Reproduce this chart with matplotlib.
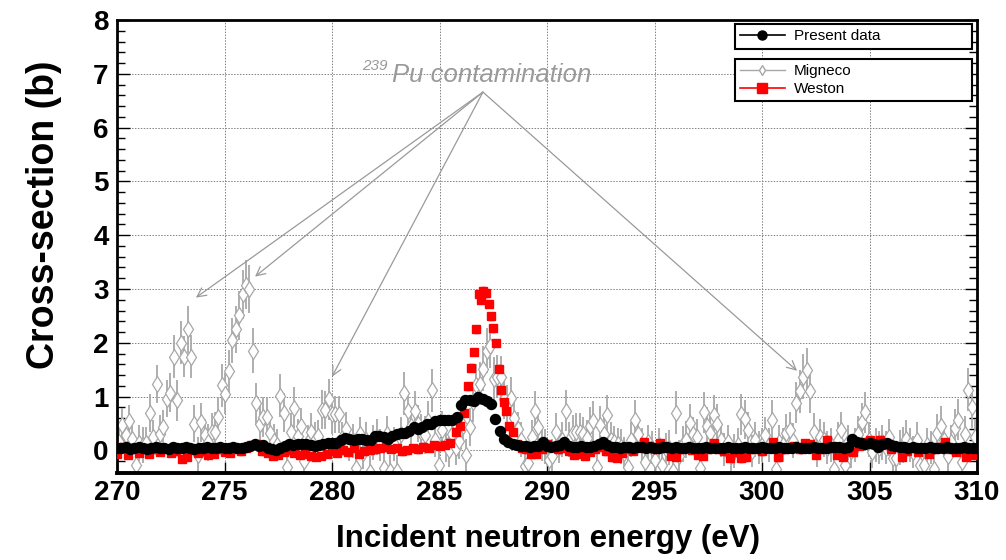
## Cross-section around the 287 eV resonance, present data vs Migneco / Weston
import numpy as np
import matplotlib
matplotlib.use('Agg')
from matplotlib import pyplot as plt
from matplotlib.lines import Line2D
from matplotlib.ticker import MultipleLocator

plt.rcParams['font.family'] = ['Liberation Sans', 'DejaVu Sans']

# ---- present data (0.2 eV grid, 270 -> 310 eV)
present_e = np.linspace(270.0, 310.0, 201)
present_xs = [
    0.05, 0.04, 0.06, 0.03, 0.05, 0.06, 0.04, 0.02, 0.05, 0.06,
    0.04, 0.05, 0.03, 0.06, 0.05, 0.04, 0.06, 0.05, 0.03, 0.04,
    0.05, 0.06, 0.04, 0.05, 0.07, 0.05, 0.04, 0.06, 0.05, 0.04,
    0.06, 0.09, 0.11, 0.08, 0.10, 0.05, 0.02, 0.01, 0.05, 0.08,
    0.11, 0.10, 0.11, 0.12, 0.11, 0.10, 0.09, 0.10, 0.12, 0.14,
    0.14, 0.14, 0.19, 0.23, 0.22, 0.20, 0.21, 0.21, 0.19, 0.20,
    0.26, 0.27, 0.25, 0.22, 0.26, 0.31, 0.32, 0.33, 0.36, 0.43,
    0.40, 0.44, 0.49, 0.50, 0.54, 0.56, 0.57, 0.57, 0.56, 0.63,
    0.85, 0.93, 0.93, 0.92, 1.00, 0.96, 0.91, 0.87, 0.58, 0.36,
    0.22, 0.16, 0.12, 0.10, 0.09, 0.08, 0.07, 0.08, 0.09, 0.15,
    0.09, 0.07, 0.08, 0.10, 0.16, 0.09, 0.07, 0.06, 0.08, 0.07,
    0.06, 0.08, 0.12, 0.16, 0.10, 0.07, 0.06, 0.05, 0.07, 0.06,
    0.05, 0.07, 0.06, 0.05, 0.06, 0.04, 0.05, 0.07, 0.06, 0.05,
    0.06, 0.05, 0.04, 0.06, 0.05, 0.04, 0.05, 0.06, 0.04, 0.05,
    0.05, 0.04, 0.06, 0.05, 0.04, 0.05, 0.06, 0.05, 0.04, 0.05,
    0.06, 0.05, 0.04, 0.05, 0.06, 0.05, 0.04, 0.05, 0.06, 0.05,
    0.04, 0.05, 0.06, 0.05, 0.04, 0.05, 0.06, 0.07, 0.06, 0.05,
    0.07, 0.21, 0.16, 0.13, 0.12, 0.14, 0.12, 0.07, 0.11, 0.13,
    0.10, 0.08, 0.07, 0.06, 0.05, 0.06, 0.05, 0.04, 0.05, 0.06,
    0.05, 0.04, 0.05, 0.06, 0.05, 0.04, 0.05, 0.06, 0.05, 0.04,
    0.05]
present_err = 0.07

# ---- Weston (0.25 eV grid outside the peak, finer on the peak)
weston_low = [
    -0.06, 0.06, -0.08, 0.05, -0.04, 0.04, -0.07, 0.02,
    -0.03, 0.03, -0.05, -0.02, -0.16, -0.12, 0.01, -0.04,
    -0.02, -0.09, -0.06, 0.02, -0.03, -0.05, 0.03, -0.02,
    0.04, 0.10, 0.11, -0.02, -0.05, -0.10, -0.08, -0.03,
    0.00, -0.04, -0.08, -0.06, -0.11, -0.12, -0.10, -0.07,
    -0.02, -0.04, 0.00, -0.03, 0.04, -0.06, -0.02, 0.00,
    0.02, 0.04, 0.06, 0.03, 0.04, -0.02, 0.00, 0.04,
    0.02, 0.07, 0.05, 0.10, 0.08, 0.10, 0.14, 0.35]
weston_peak_e = [285.94, 286.12, 286.34, 286.48, 286.60, 286.72, 286.84, 286.94,
                 287.04, 287.14, 287.28, 287.40, 287.50, 287.64, 287.75, 287.88,
                 287.98, 288.10, 288.22, 288.40, 288.62, 288.85]
weston_peak = [0.46, 0.70, 1.19, 1.54, 1.83, 2.25, 2.90, 2.80,
               2.97, 2.92, 2.72, 2.49, 2.27, 2.00, 1.52, 1.13,
               0.90, 0.74, 0.45, 0.34, 0.11, 0.04]
weston_high = [
    0.02, -0.07, -0.06, 0.03, 0.12, 0.08, 0.02, 0.05,
    -0.02, -0.08, -0.07, -0.10, -0.03, 0.03, 0.06, -0.02,
    -0.13, -0.14, -0.05, 0.02, -0.01, 0.05, 0.15, 0.08,
    0.02, 0.13, 0.04, -0.10, -0.12, 0.02, 0.04, 0.01,
    -0.08, -0.10, 0.03, 0.14, 0.03, -0.02, -0.14, -0.03,
    -0.15, -0.13, 0.02, 0.04, -0.02, 0.05, 0.16, -0.13,
    0.02, 0.05, 0.08, 0.02, 0.14, 0.12, -0.08, 0.03,
    0.20, 0.05, -0.08, -0.12, -0.02, -0.03, 0.08, 0.15,
    0.19, 0.12, 0.20, 0.10, 0.03, 0.06, -0.12, -0.02,
    0.04, -0.03, 0.05, -0.06, 0.02, 0.07, 0.16, 0.03,
    -0.03, 0.05, -0.12, -0.08, 0.04]
weston_err = 0.06

# ---- Migneco (0.16 eV grid)
migneco_e = np.linspace(270.08, 309.92, 250)
migneco_xs = [
    0.15, 0.48, 0.28, 0.54, 0.21, -0.27, 0.14, 0.10, 0.14, 0.70,
    0.25, 1.24, 0.30, 0.43, 0.96, 1.07, 1.74, 0.93, 2.00, 1.74,
    2.25, 1.74, 0.50, -0.08, 0.52, 0.28, 0.15, 0.34, 0.35, 0.62,
    1.21, 1.05, 1.47, 2.05, 2.25, 2.51, 2.90, 3.08, 3.00, 1.85,
    0.88, 0.50, 0.62, 0.62, 0.32, 0.17, 0.10, 1.02, 0.70, -0.30,
    0.35, 0.79, 0.26, 0.45, -0.20, 0.15, 0.35, 0.20, 0.26, 0.76,
    0.75, 0.95, 0.67, 0.67, 0.67, 0.23, 0.40, 0.10, 0.18, -0.33,
    0.30, -0.05, 0.20, -0.40, 0.15, 0.25, 0.10, -0.33, 0.30, -0.38,
    0.12, -0.38, 0.30, 1.06, 0.73, 0.45, 0.74, 0.50, 0.35, 0.29,
    0.55, 1.12, 0.20, -0.27, 0.38, 0.10, 0.00, 0.30, 0.05, 0.17,
    0.45, -0.08, 0.44, 0.90, 1.21, 1.24, 1.52, 1.85, 1.94, 1.33,
    1.37, 1.37, 0.95, 0.85, 0.98, 0.60, 0.39, 0.20, -0.29, -0.23,
    0.25, 0.74, 0.43, 0.10, 0.07, -0.17, -0.10, 0.35, 0.07, 0.20,
    0.74, 0.20, 0.32, 0.35, 0.35, 0.30, 0.23, 0.45, 0.54, -0.31,
    0.48, 0.30, 0.66, 0.20, 0.15, 0.12, 0.07, -0.05, -0.30, 0.20,
    0.56, 0.30, 0.10, -0.22, 0.15, 0.05, -0.18, 0.10, -0.27, 0.02,
    0.05, -0.38, 0.70, -0.10, 0.12, 0.20, 0.51, 0.30, 0.24, -0.32,
    0.71, 0.45, 0.32, 0.66, 0.50, 0.20, 0.02, 0.15, -0.10, -0.01,
    0.10, 0.67, 0.58, 0.37, -0.01, 0.20, 0.05, 0.10, 0.28, 0.10,
    0.57, -0.35, 0.15, 0.10, 0.33, 0.37, 0.18, 0.89, 1.10, 1.37,
    1.49, 1.10, 0.35, 0.00, 0.25, 0.20, 0.05, 0.10, -0.35, 0.20,
    0.37, -0.27, 0.15, -0.01, 0.10, 0.30, 0.53, 0.71, 0.20, -0.03,
    0.10, 0.05, 0.15, 0.05, 0.24, -0.15, -0.15, 0.05, 0.10, 0.21,
    0.10, -0.03, 0.20, -0.28, -0.28, 0.10, 0.05, -0.35, 0.32, 0.45,
    0.20, -0.10, 0.15, 0.41, 0.57, -0.22, 0.30, 1.13, 0.80, 0.25]
migneco_err = [
    0.30, 0.30, 0.32, 0.30, 0.35, 0.30, 0.33, 0.34, 0.30, 0.35,
    0.32, 0.35, 0.36, 0.33, 0.34, 0.36, 0.40, 0.38, 0.40, 0.38,
    0.44, 0.40, 0.35, 0.33, 0.36, 0.30, 0.34, 0.35, 0.36, 0.38,
    0.40, 0.38, 0.40, 0.42, 0.44, 0.45, 0.45, 0.46, 0.45, 0.42,
    0.38, 0.36, 0.38, 0.36, 0.33, 0.32, 0.30, 0.40, 0.36, 0.30,
    0.34, 0.38, 0.32, 0.34, 0.30, 0.32, 0.34, 0.33, 0.30, 0.36,
    0.36, 0.38, 0.36, 0.35, 0.35, 0.30, 0.32, 0.30, 0.32, 0.30,
    0.33, 0.30, 0.32, 0.30, 0.33, 0.34, 0.30, 0.30, 0.34, 0.30,
    0.32, 0.30, 0.33, 0.40, 0.38, 0.35, 0.36, 0.34, 0.33, 0.35,
    0.36, 0.40, 0.32, 0.30, 0.35, 0.32, 0.30, 0.36, 0.32, 0.33,
    0.34, 0.30, 0.35, 0.38, 0.40, 0.40, 0.42, 0.42, 0.40, 0.40,
    0.40, 0.38, 0.36, 0.36, 0.38, 0.35, 0.33, 0.32, 0.30, 0.30,
    0.32, 0.36, 0.34, 0.30, 0.32, 0.30, 0.31, 0.34, 0.30, 0.33,
    0.38, 0.32, 0.33, 0.34, 0.34, 0.32, 0.33, 0.36, 0.37, 0.30,
    0.35, 0.33, 0.37, 0.32, 0.31, 0.30, 0.32, 0.30, 0.30, 0.33,
    0.38, 0.33, 0.32, 0.30, 0.33, 0.31, 0.30, 0.32, 0.30, 0.31,
    0.32, 0.30, 0.40, 0.30, 0.33, 0.34, 0.36, 0.33, 0.34, 0.30,
    0.38, 0.35, 0.34, 0.37, 0.36, 0.32, 0.31, 0.33, 0.30, 0.31,
    0.32, 0.38, 0.36, 0.34, 0.30, 0.33, 0.31, 0.32, 0.35, 0.32,
    0.36, 0.30, 0.32, 0.31, 0.34, 0.35, 0.33, 0.38, 0.40, 0.42,
    0.42, 0.40, 0.34, 0.31, 0.33, 0.33, 0.31, 0.32, 0.30, 0.33,
    0.35, 0.30, 0.33, 0.31, 0.32, 0.34, 0.36, 0.38, 0.33, 0.30,
    0.32, 0.31, 0.33, 0.31, 0.35, 0.30, 0.30, 0.32, 0.33, 0.35,
    0.32, 0.30, 0.33, 0.30, 0.30, 0.32, 0.31, 0.30, 0.36, 0.37,
    0.33, 0.31, 0.33, 0.36, 0.38, 0.30, 0.34, 0.40, 0.38, 0.33]

# arrows: the 239Pu contamination label points at these energies
pu_label_xy = (287.02, 6.66)
pu_targets = [(273.67, 2.84), (276.42, 3.23), (280.0, 1.37), (301.63, 1.48)]

weston_e = np.concatenate([np.arange(270.0, 285.9, 0.25), weston_peak_e,
                           np.arange(289.0, 310.01, 0.25)])
weston_xs = weston_low + weston_peak + weston_high

fig = plt.figure(figsize=(10.06, 5.6), dpi=100)
ax = fig.add_axes([117 / 1006, 87 / 560, 860 / 1006, 453 / 560])

grey = '#a8a8a8'
ax.errorbar(migneco_e, migneco_xs, yerr=migneco_err, fmt='d', ms=8,
            mfc='white', mec=grey, mew=0.9, ecolor=grey, elinewidth=1.3,
            capsize=0, zorder=2)
ax.errorbar(weston_e, weston_xs, yerr=weston_err, fmt='s', ms=6,
            color='red', mec='red', ecolor='red', elinewidth=1, capsize=1.5,
            zorder=3)
ax.errorbar(present_e, present_xs, yerr=present_err, fmt='o', ms=7.2,
            color='black', ecolor='black', elinewidth=1, capsize=1.5,
            zorder=4)

ax.set_xlim(270, 310)
ax.set_ylim(-0.42, 8)
ax.xaxis.set_major_locator(MultipleLocator(5))
ax.yaxis.set_major_locator(MultipleLocator(1))
ax.yaxis.set_minor_locator(MultipleLocator(0.2))
ax.grid(True, which='major', color='#808080', linestyle=(0, (1.5, 1.5)), lw=0.7)
ax.set_axisbelow(True)

ax.tick_params(axis='y', which='both', direction='in', left=True, right=True,
               labelsize=20, pad=6)
ax.tick_params(axis='y', which='major', length=9, width=1)
ax.tick_params(axis='y', which='minor', length=6, width=1)
ax.tick_params(axis='x', which='major', direction='in', length=8, width=1,
               labelsize=20, pad=5)
for lab in ax.get_xticklabels() + ax.get_yticklabels():
    lab.set_fontweight('bold')
for s in ['left', 'right', 'top']:
    ax.spines[s].set_linewidth(2.0)
ax.spines['bottom'].set_linewidth(2.8)

ax.set_xlabel('Incident neutron energy (eV)', fontsize=22.5, fontweight='bold')
ax.set_ylabel('Cross-section (b)', fontsize=27, fontweight='bold')
ax.xaxis.set_label_coords(0.501, -0.112)
ax.yaxis.set_label_coords(-0.064, 0.57)

# annotation text + arrows
ax.text(281.4, 7.07, '239', color='#9a9a9a', fontsize=11, style='italic')
ax.text(282.79, 6.85, 'Pu contamination', color='#9a9a9a', fontsize=18.5,
        style='italic')
for tx, ty in pu_targets:
    ax.annotate('', xy=(tx, ty), xytext=pu_label_xy,
                arrowprops=dict(arrowstyle='->', color='#9a9a9a', lw=0.9,
                                mutation_scale=16, shrinkA=0, shrinkB=0))

# two separate legend boxes like the original
h_present = Line2D([], [], color='black', marker='o', ms=6.5, lw=1.2)
h_mig = Line2D([], [], color=grey, marker='d', ms=5.5, mfc='white', mec=grey, lw=1)
h_wes = Line2D([], [], color='red', marker='s', ms=6.5, lw=1.2)
leg_kw = dict(loc='upper left', mode='expand', fontsize=11, frameon=True,
              fancybox=False, framealpha=1, edgecolor='black', borderaxespad=0,
              borderpad=0.35, handlelength=2.9, handletextpad=0.6,
              labelspacing=0.25)
leg1 = ax.legend([h_present], ['Present data'],
                 bbox_to_anchor=(0.7186, 0.927, 0.2756, 0.064), **leg_kw)
leg1.get_frame().set_linewidth(1.5)
ax.add_artist(leg1)
leg2 = ax.legend([h_mig, h_wes], ['Migneco', 'Weston'],
                 bbox_to_anchor=(0.7186, 0.808, 0.2756, 0.106), **leg_kw)
leg2.get_frame().set_linewidth(1.5)

fig.savefig('out.png', dpi=100)
